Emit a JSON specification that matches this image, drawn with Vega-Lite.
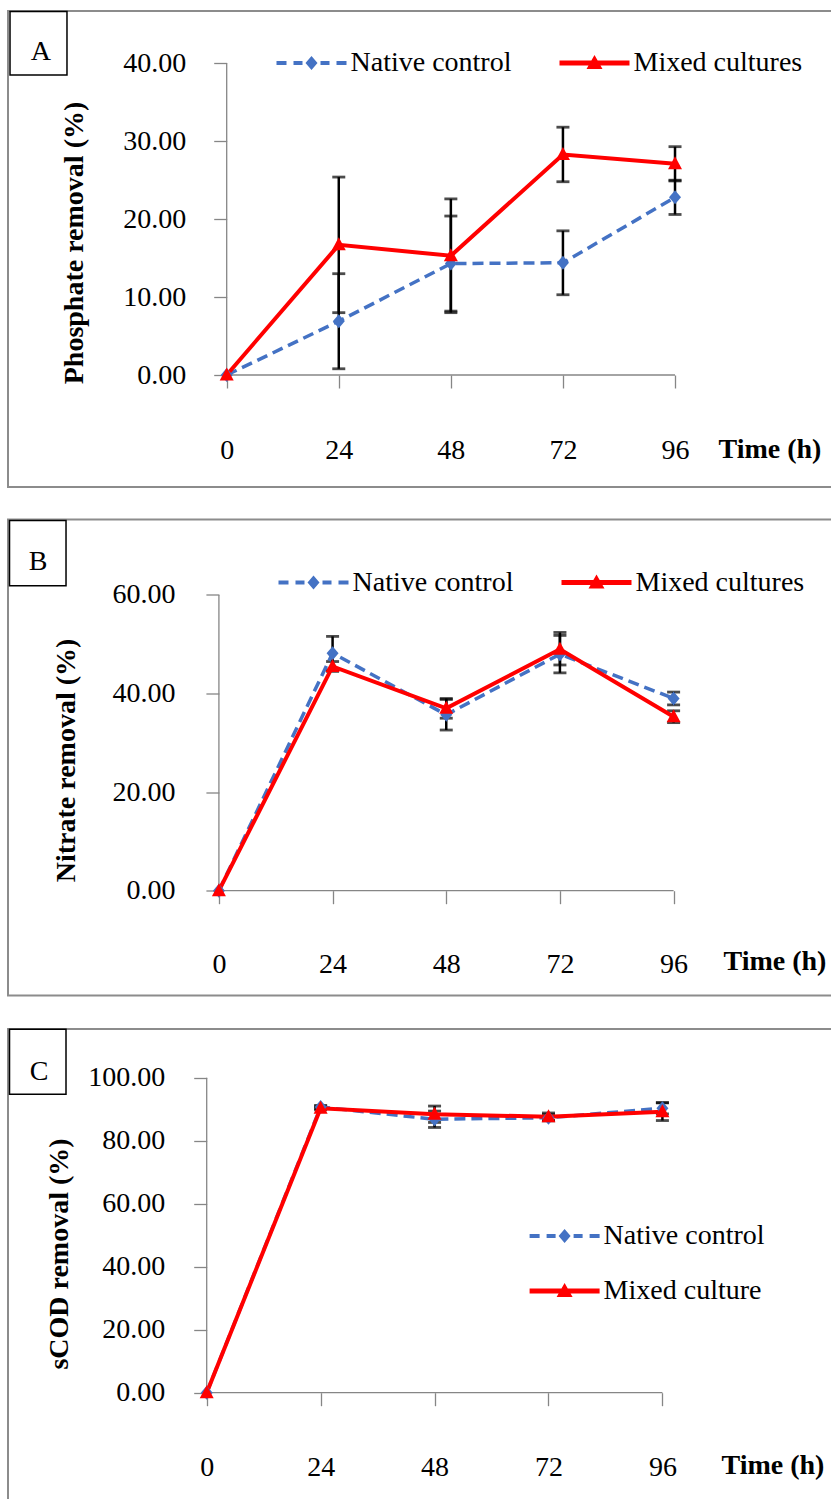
{
  "$schema": "https://vega.github.io/schema/vega-lite/v6.json",
  "padding": {"left": 7, "top": 9, "right": 0, "bottom": 0},
  "spacing": 30.5,
  "resolve": {"scale": {"color": "independent"}, "legend": {"color": "independent"}},
  "datasets": {
    "phosphate": [
      {"t": 0, "series": "Native control", "val": 0, "lo": 0, "hi": 0},
      {"t": 24, "series": "Native control", "val": 6.9, "lo": 0.8, "hi": 13.0},
      {"t": 48, "series": "Native control", "val": 14.3, "lo": 8.2, "hi": 20.4},
      {"t": 72, "series": "Native control", "val": 14.4, "lo": 10.3, "hi": 18.5},
      {"t": 96, "series": "Native control", "val": 22.8, "lo": 20.6, "hi": 25.0},
      {"t": 0, "series": "Mixed cultures", "val": 0, "lo": 0, "hi": 0},
      {"t": 24, "series": "Mixed cultures", "val": 16.7, "lo": 8.0, "hi": 25.4},
      {"t": 48, "series": "Mixed cultures", "val": 15.3, "lo": 8.0, "hi": 22.6},
      {"t": 72, "series": "Mixed cultures", "val": 28.3, "lo": 24.8, "hi": 31.8},
      {"t": 96, "series": "Mixed cultures", "val": 27.1, "lo": 24.9, "hi": 29.3}
    ],
    "nitrate": [
      {"t": 0, "series": "Native control", "val": 0, "lo": 0, "hi": 0},
      {"t": 24, "series": "Native control", "val": 48.2, "lo": 44.8, "hi": 51.6},
      {"t": 48, "series": "Native control", "val": 35.7, "lo": 32.6, "hi": 38.8},
      {"t": 72, "series": "Native control", "val": 48.0, "lo": 44.2, "hi": 51.8},
      {"t": 96, "series": "Native control", "val": 39.0, "lo": 37.7, "hi": 40.3},
      {"t": 0, "series": "Mixed cultures", "val": 0, "lo": 0, "hi": 0},
      {"t": 24, "series": "Mixed cultures", "val": 45.5, "lo": 44.5, "hi": 46.5},
      {"t": 48, "series": "Mixed cultures", "val": 37.0, "lo": 35.0, "hi": 39.0},
      {"t": 72, "series": "Mixed cultures", "val": 49.0, "lo": 45.8, "hi": 52.4},
      {"t": 96, "series": "Mixed cultures", "val": 35.3, "lo": 34.1, "hi": 36.5}
    ],
    "scod": [
      {"t": 0, "series": "Native control", "val": 0, "lo": 0, "hi": 0},
      {"t": 24, "series": "Native control", "val": 90.7, "lo": 90.2, "hi": 91.2},
      {"t": 48, "series": "Native control", "val": 86.8, "lo": 84.2, "hi": 89.4},
      {"t": 72, "series": "Native control", "val": 87.3, "lo": 86.3, "hi": 88.3},
      {"t": 96, "series": "Native control", "val": 90.3, "lo": 88.5, "hi": 92.1},
      {"t": 0, "series": "Mixed culture", "val": 0, "lo": 0, "hi": 0},
      {"t": 24, "series": "Mixed culture", "val": 90.3, "lo": 89.8, "hi": 90.8},
      {"t": 48, "series": "Mixed culture", "val": 88.4, "lo": 85.8, "hi": 91.0},
      {"t": 72, "series": "Mixed culture", "val": 87.6, "lo": 86.4, "hi": 88.8},
      {"t": 96, "series": "Mixed culture", "val": 89.2, "lo": 86.4, "hi": 92.0}
    ]
  },
  "vconcat": [
    {
      "width": 830,
      "height": 476,
      "data": {"name": "phosphate"},
      "layer": [
        {
          "data": {"values": [{}]},
          "mark": {"type": "rule", "color": "#868686", "strokeWidth": 1.3},
          "encoding": {
            "x": {"datum": 0, "type": "quantitative"},
            "x2": {"datum": 96},
            "y": {"datum": 0, "type": "quantitative"}
          }
        },
        {
          "data": {"values": [{}]},
          "mark": {"type": "rule", "color": "#868686", "strokeWidth": 1.3},
          "encoding": {
            "x": {"datum": 0, "type": "quantitative"},
            "y": {"datum": 0, "type": "quantitative"},
            "y2": {"datum": 40}
          }
        },
        {
          "transform": [{"filter": "datum.t > 0"}],
          "mark": {"type": "errorbar", "color": "black", "thickness": 2.5, "ticks": {"size": 13, "thickness": 2.8, "color": "black"}},
          "encoding": {
            "x": {"field": "t", "type": "quantitative", "title": "Time (h)"},
            "y": {"field": "lo", "type": "quantitative", "title": "Phosphate removal (%)"},
            "y2": {"field": "hi"}
          }
        },
        {
          "transform": [{"filter": "datum.series === 'Native control'"}],
          "mark": {"type": "line", "strokeWidth": 3.5, "strokeDash": [11, 6]},
          "encoding": {
            "x": {
              "field": "t", "type": "quantitative",
              "scale": {"domain": [-46.83, 130.9], "zero": false, "nice": false},
              "axis": {"orient": "bottom", "offset": -112, "values": [0, 24, 48, 72, 96], "format": "d", "labelPadding": 70, "labelBaseline": "alphabetic",
                       "title": "Time (h)", "titleX": 710, "titleY": 82, "titleAlign": "left", "titleBaseline": "alphabetic", "titleAngle": 0}
            },
            "y": {
              "field": "val", "type": "quantitative",
              "scale": {"domain": [-14.37, 46.71], "zero": false, "nice": false},
              "axis": {"orient": "left", "offset": -218.7, "values": [0, 10, 20, 30, 40], "format": ".2f", "labelPadding": 28,
                       "title": "Phosphate removal (%)", "titleX": -144, "titleY": 231.5, "titleAngle": 270, "titleAlign": "center", "titleBaseline": "alphabetic"}
            },
            "color": {
              "field": "series", "type": "nominal",
              "scale": {"domain": ["Native control", "Mixed cultures"], "range": ["#4472C4", "#FF0000"]},
              "legend": {
                "orient": "none", "legendX": 254.5, "legendY": 38, "direction": "horizontal", "columnPadding": 34,
                "encode": {"symbols": {"update": {
                  "shape": {"signal": "datum.value === 'Native control' ? 'M-35,-2H-25V2H-35Z M-18,-2H-9V2H-18Z M9,-2H18V2H9Z M25,-2H35V2H25Z M0,-7L6,0L0,7L-6,0Z' : 'M-35,-2.5H35V2.5H-35Z M0,-8L8,6H-8Z'"},
                  "fill": {"signal": "datum.value === 'Native control' ? '#4472C4' : '#FF0000'"},
                  "stroke": {"value": "transparent"}, "strokeWidth": {"value": 0}, "size": {"value": 4}, "opacity": {"value": 1}
                }}}
              }
            }
          }
        },
        {
          "transform": [{"filter": "datum.series !== 'Native control'"}],
          "mark": {"type": "line", "strokeWidth": 4},
          "encoding": {
            "x": {"field": "t", "type": "quantitative"},
            "y": {"field": "val", "type": "quantitative"},
            "color": {"field": "series", "type": "nominal"}
          }
        },
        {
          "transform": [{"filter": "datum.series === 'Native control'"}],
          "mark": {"type": "point", "shape": "M0,-7L6,0L0,7L-6,0Z", "size": 4, "filled": true, "opacity": 1, "fill": "#4472C4", "strokeWidth": 0},
          "encoding": {
            "x": {"field": "t", "type": "quantitative"},
            "y": {"field": "val", "type": "quantitative"}
          }
        },
        {
          "transform": [{"filter": "datum.series !== 'Native control'"}],
          "mark": {"type": "point", "shape": "M0,-7.5L7,5.5L-7,5.5Z", "size": 4, "filled": true, "opacity": 1, "fill": "#FF0000", "strokeWidth": 0},
          "encoding": {
            "x": {"field": "t", "type": "quantitative"},
            "y": {"field": "val", "type": "quantitative"}
          }
        },
        {
          "data": {"values": [{}]},
          "mark": {"type": "rect", "fill": "white", "stroke": "black", "strokeWidth": 1.5},
          "encoding": {
            "x": {"datum": -46.40, "type": "quantitative"},
            "x2": {"datum": -34.20},
            "y": {"datum": 46.65, "type": "quantitative"},
            "y2": {"datum": 38.50}
          }
        },
        {
          "data": {"values": [{}]},
          "mark": {"type": "text", "text": "A", "font": "Liberation Serif", "fontSize": 28, "align": "center", "baseline": "middle", "color": "black"},
          "encoding": {
            "x": {"datum": -39.81, "type": "quantitative"},
            "y": {"datum": 41.49, "type": "quantitative"}
          }
        }
      ]
    },
    {
      "width": 830,
      "height": 476,
      "data": {"name": "nitrate"},
      "layer": [
        {
          "data": {"values": [{}]},
          "mark": {"type": "rule", "color": "#868686", "strokeWidth": 1.3},
          "encoding": {
            "x": {"datum": 0, "type": "quantitative"},
            "x2": {"datum": 96},
            "y": {"datum": 0, "type": "quantitative"}
          }
        },
        {
          "data": {"values": [{}]},
          "mark": {"type": "rule", "color": "#868686", "strokeWidth": 1.3},
          "encoding": {
            "x": {"datum": 0, "type": "quantitative"},
            "y": {"datum": 0, "type": "quantitative"},
            "y2": {"datum": 60}
          }
        },
        {
          "transform": [{"filter": "datum.t > 0"}],
          "mark": {"type": "errorbar", "color": "black", "thickness": 2.5, "ticks": {"size": 13, "thickness": 2.8, "color": "black"}},
          "encoding": {
            "x": {"field": "t", "type": "quantitative", "title": "Time (h)"},
            "y": {"field": "lo", "type": "quantitative", "title": "Nitrate removal (%)"},
            "y2": {"field": "hi"}
          }
        },
        {
          "transform": [{"filter": "datum.series === 'Native control'"}],
          "mark": {"type": "line", "strokeWidth": 3.5, "strokeDash": [11, 6]},
          "encoding": {
            "x": {
              "field": "t", "type": "quantitative",
              "scale": {"domain": [-44.53, 130.71], "zero": false, "nice": false},
              "axis": {"orient": "bottom", "offset": -104.8, "values": [0, 24, 48, 72, 96], "format": "d", "labelPadding": 69, "labelBaseline": "alphabetic",
                       "title": "Time (h)", "titleX": 715, "titleY": 79, "titleAlign": "left", "titleBaseline": "alphabetic", "titleAngle": 0}
            },
            "y": {
              "field": "val", "type": "quantitative",
              "scale": {"domain": [-21.27, 75.32], "zero": false, "nice": false},
              "axis": {"orient": "left", "offset": -210.9, "values": [0, 20, 40, 60], "format": ".2f", "labelPadding": 31,
                       "title": "Nitrate removal (%)", "titleX": -144, "titleY": 240.5, "titleAngle": 270, "titleAlign": "center", "titleBaseline": "alphabetic"}
            },
            "color": {
              "field": "series", "type": "nominal",
              "scale": {"domain": ["Native control", "Mixed cultures"], "range": ["#4472C4", "#FF0000"]},
              "legend": {
                "orient": "none", "legendX": 256.5, "legendY": 49, "direction": "horizontal", "columnPadding": 34,
                "encode": {"symbols": {"update": {
                  "shape": {"signal": "datum.value === 'Native control' ? 'M-35,-2H-25V2H-35Z M-18,-2H-9V2H-18Z M9,-2H18V2H9Z M25,-2H35V2H25Z M0,-7L6,0L0,7L-6,0Z' : 'M-35,-2.5H35V2.5H-35Z M0,-8L8,6H-8Z'"},
                  "fill": {"signal": "datum.value === 'Native control' ? '#4472C4' : '#FF0000'"},
                  "stroke": {"value": "transparent"}, "strokeWidth": {"value": 0}, "size": {"value": 4}, "opacity": {"value": 1}
                }}}
              }
            }
          }
        },
        {
          "transform": [{"filter": "datum.series !== 'Native control'"}],
          "mark": {"type": "line", "strokeWidth": 4},
          "encoding": {
            "x": {"field": "t", "type": "quantitative"},
            "y": {"field": "val", "type": "quantitative"},
            "color": {"field": "series", "type": "nominal"}
          }
        },
        {
          "transform": [{"filter": "datum.series === 'Native control'"}],
          "mark": {"type": "point", "shape": "M0,-7L6,0L0,7L-6,0Z", "size": 4, "filled": true, "opacity": 1, "fill": "#4472C4", "strokeWidth": 0},
          "encoding": {
            "x": {"field": "t", "type": "quantitative"},
            "y": {"field": "val", "type": "quantitative"}
          }
        },
        {
          "transform": [{"filter": "datum.series !== 'Native control'"}],
          "mark": {"type": "point", "shape": "M0,-7.5L7,5.5L-7,5.5Z", "size": 4, "filled": true, "opacity": 1, "fill": "#FF0000", "strokeWidth": 0},
          "encoding": {
            "x": {"field": "t", "type": "quantitative"},
            "y": {"field": "val", "type": "quantitative"}
          }
        },
        {
          "data": {"values": [{}]},
          "mark": {"type": "rect", "fill": "white", "stroke": "black", "strokeWidth": 1.5},
          "encoding": {
            "x": {"datum": -44.21, "type": "quantitative"},
            "x2": {"datum": -32.28},
            "y": {"datum": 75.12, "type": "quantitative"},
            "y2": {"datum": 61.89}
          }
        },
        {
          "data": {"values": [{}]},
          "mark": {"type": "text", "text": "B", "font": "Liberation Serif", "fontSize": 28, "align": "center", "baseline": "middle", "color": "black"},
          "encoding": {
            "x": {"datum": -38.20, "type": "quantitative"},
            "y": {"datum": 66.76, "type": "quantitative"}
          }
        }
      ]
    },
    {
      "width": 830,
      "height": 476,
      "data": {"name": "scod"},
      "layer": [
        {
          "data": {"values": [{}]},
          "mark": {"type": "rule", "color": "#868686", "strokeWidth": 1.3},
          "encoding": {
            "x": {"datum": 0, "type": "quantitative"},
            "x2": {"datum": 96},
            "y": {"datum": 0, "type": "quantitative"}
          }
        },
        {
          "data": {"values": [{}]},
          "mark": {"type": "rule", "color": "#868686", "strokeWidth": 1.3},
          "encoding": {
            "x": {"datum": 0, "type": "quantitative"},
            "y": {"datum": 0, "type": "quantitative"},
            "y2": {"datum": 100}
          }
        },
        {
          "transform": [{"filter": "datum.t > 0"}],
          "mark": {"type": "errorbar", "color": "black", "thickness": 2.5, "ticks": {"size": 13, "thickness": 2.8, "color": "black"}},
          "encoding": {
            "x": {"field": "t", "type": "quantitative", "title": "Time (h)"},
            "y": {"field": "lo", "type": "quantitative", "title": "sCOD removal (%)"},
            "y2": {"field": "hi"}
          }
        },
        {
          "transform": [{"filter": "datum.series === 'Native control'"}],
          "mark": {"type": "line", "strokeWidth": 3.5, "strokeDash": [11, 6]},
          "encoding": {
            "x": {
              "field": "t", "type": "quantitative",
              "scale": {"domain": [-41.86, 132.99], "zero": false, "nice": false},
              "axis": {"orient": "bottom", "offset": -112.3, "values": [0, 24, 48, 72, 96], "format": "d", "labelPadding": 70, "labelBaseline": "alphabetic",
                       "title": "Time (h)", "titleX": 713, "titleY": 81, "titleAlign": "left", "titleBaseline": "alphabetic", "titleAngle": 0}
            },
            "y": {
              "field": "val", "type": "quantitative",
              "scale": {"domain": [-35.65, 115.46], "zero": false, "nice": false},
              "axis": {"orient": "left", "offset": -198.7, "values": [0, 20, 40, 60, 80, 100], "format": ".2f", "labelPadding": 29,
                       "title": "sCOD removal (%)", "titleX": -139, "titleY": 224.5, "titleAngle": 270, "titleAlign": "center", "titleBaseline": "alphabetic"}
            },
            "color": {
              "field": "series", "type": "nominal",
              "scale": {"domain": ["Native control", "Mixed culture"], "range": ["#4472C4", "#FF0000"]},
              "legend": {
                "orient": "none", "legendX": 507.6, "legendY": 193, "direction": "vertical", "rowPadding": 27,
                "encode": {"symbols": {"update": {
                  "shape": {"signal": "datum.value === 'Native control' ? 'M-35,-2H-25V2H-35Z M-18,-2H-9V2H-18Z M9,-2H18V2H9Z M25,-2H35V2H25Z M0,-7L6,0L0,7L-6,0Z' : 'M-35,-2.5H35V2.5H-35Z M0,-8L8,6H-8Z'"},
                  "fill": {"signal": "datum.value === 'Native control' ? '#4472C4' : '#FF0000'"},
                  "stroke": {"value": "transparent"}, "strokeWidth": {"value": 0}, "size": {"value": 4}, "opacity": {"value": 1}
                }}}
              }
            }
          }
        },
        {
          "transform": [{"filter": "datum.series !== 'Native control'"}],
          "mark": {"type": "line", "strokeWidth": 4},
          "encoding": {
            "x": {"field": "t", "type": "quantitative"},
            "y": {"field": "val", "type": "quantitative"},
            "color": {"field": "series", "type": "nominal"}
          }
        },
        {
          "transform": [{"filter": "datum.series === 'Native control'"}],
          "mark": {"type": "point", "shape": "M0,-7L6,0L0,7L-6,0Z", "size": 4, "filled": true, "opacity": 1, "fill": "#4472C4", "strokeWidth": 0},
          "encoding": {
            "x": {"field": "t", "type": "quantitative"},
            "y": {"field": "val", "type": "quantitative"}
          }
        },
        {
          "transform": [{"filter": "datum.series !== 'Native control'"}],
          "mark": {"type": "point", "shape": "M0,-7.5L7,5.5L-7,5.5Z", "size": 4, "filled": true, "opacity": 1, "fill": "#FF0000", "strokeWidth": 0},
          "encoding": {
            "x": {"field": "t", "type": "quantitative"},
            "y": {"field": "val", "type": "quantitative"}
          }
        },
        {
          "data": {"values": [{}]},
          "mark": {"type": "rect", "fill": "white", "stroke": "black", "strokeWidth": 1.5},
          "encoding": {
            "x": {"datum": -41.54, "type": "quantitative"},
            "x2": {"datum": -29.64},
            "y": {"datum": 115.37, "type": "quantitative"},
            "y2": {"datum": 94.73}
          }
        },
        {
          "data": {"values": [{}]},
          "mark": {"type": "text", "text": "C", "font": "Liberation Serif", "fontSize": 28, "align": "center", "baseline": "middle", "color": "black"},
          "encoding": {
            "x": {"datum": -35.33, "type": "quantitative"},
            "y": {"datum": 101.87, "type": "quantitative"}
          }
        }
      ]
    }
  ],
  "config": {
    "font": "Liberation Serif",
    "view": {"stroke": "#8c8c8c", "strokeWidth": 2},
    "axis": {
      "grid": false, "domain": false,
      "tickColor": "#868686", "tickWidth": 1.3, "tickSize": 13,
      "labelFont": "Liberation Serif", "labelFontSize": 28, "labelColor": "black",
      "labelFlush": false, "labelOverlap": false, "labelBound": false,
      "titleFont": "Liberation Serif", "titleFontSize": 28, "titleFontWeight": "bold", "titleColor": "black"
    },
    "legend": {
      "title": null, "padding": 0, "offset": 0,
      "labelFont": "Liberation Serif", "labelFontSize": 28, "labelColor": "black", "labelLimit": 400,
      "labelOffset": 25, "symbolOffset": 35, "symbolSize": 4, "symbolStrokeWidth": 0
    }
  }
}
